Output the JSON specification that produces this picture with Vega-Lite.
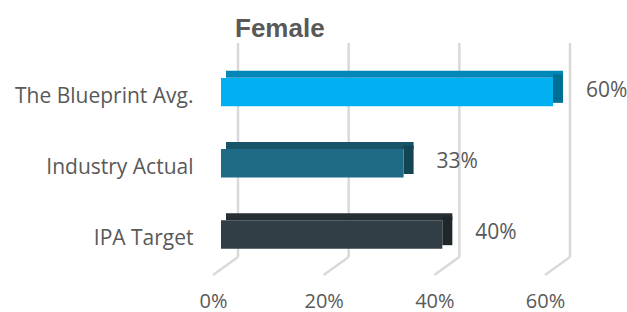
{
  "$schema": "https://vega.github.io/schema/vega-lite/v6.json",
  "autosize": "none",
  "width": 332,
  "height": 232,
  "padding": {"left": 221, "top": 43, "right": 74, "bottom": 37},
  "background": "white",
  "title": {"text": "Female", "anchor": "start", "frame": "group", "dx": 14, "offset": 0, "fontSize": 26, "font": "Liberation Sans", "fontWeight": "bold", "color": "#595959"},
  "config": {"view": {"stroke": null}},
  "datasets": {
    "bars": [
      {"group": "The Blueprint Avg.", "value": 0.60},
      {"group": "Industry Actual", "value": 0.33},
      {"group": "IPA Target", "value": 0.40}
    ],
    "grid": [{"tick": 0}, {"tick": 0.2}, {"tick": 0.4}, {"tick": 0.6}]
  },
  "resolve": {"scale": {"color": "independent"}},
  "layer": [
    {
      "data": {"name": "grid"},
      "mark": {"type": "rule", "color": "#D9D9D9", "strokeWidth": 2.5, "xOffset": 17, "y2Offset": -18},
      "encoding": {
        "x": {"field": "tick", "type": "quantitative", "scale": {"domain": [0, 0.6], "nice": false}, "axis": {"values": [0, 0.2, 0.4, 0.6], "format": ".0%", "labelFlush": false, "grid": false, "ticks": false, "domain": false, "labelFont": "Open Sans", "labelFontSize": 20, "labelColor": "#595959", "labelPadding": 16, "labelOffset": -8, "title": null}},
        "y": {"value": 0},
        "y2": {"value": "height"}
      }
    },
    {
      "data": {"name": "grid"},
      "mark": {"type": "rule", "color": "#D9D9D9", "strokeWidth": 2.5, "xOffset": -8, "x2Offset": 17, "y2Offset": -18},
      "encoding": {
        "x": {"field": "tick", "type": "quantitative"},
        "x2": {"field": "tick"},
        "y": {"value": "height"},
        "y2": {"value": "height"}
      }
    },
    {
      "data": {"name": "bars"},
      "mark": {"type": "bar", "size": 7, "xOffset": 10, "x2Offset": 5, "yOffset": -17.75},
      "encoding": {
        "y": {"field": "group", "type": "nominal", "sort": null, "scale": {"paddingInner": 0.6, "paddingOuter": 0.43, "align": 0.57}, "axis": {"ticks": false, "domain": false, "grid": false, "title": null, "labelFont": "Open Sans", "labelFontSize": 21, "labelLimit": 260, "labelColor": "#595959", "labelPadding": 28, "labelOffset": 5}},
        "x": {"field": "value", "type": "quantitative"},
        "x2": {"datum": 0},
        "color": {"field": "group", "type": "nominal", "legend": null, "scale": {"domain": ["The Blueprint Avg.", "Industry Actual", "IPA Target"], "range": ["#0087B8", "#175468", "#262F34"]}}
      }
    },
    {
      "data": {"name": "bars"},
      "mark": {"type": "bar", "xOffset": 10, "x2Offset": 0, "yOffset": -3.5},
      "encoding": {
        "y": {"field": "group", "type": "nominal", "sort": null},
        "x": {"field": "value", "type": "quantitative"},
        "x2": {"field": "value"},
        "color": {"field": "group", "type": "nominal", "legend": null, "scale": {"domain": ["The Blueprint Avg.", "Industry Actual", "IPA Target"], "range": ["#006F96", "#134555", "#1F272B"]}}
      }
    },
    {
      "data": {"name": "bars"},
      "mark": {"type": "bar"},
      "encoding": {
        "y": {"field": "group", "type": "nominal", "sort": null},
        "x": {"field": "value", "type": "quantitative"},
        "color": {"field": "group", "type": "nominal", "legend": null, "scale": {"domain": ["The Blueprint Avg.", "Industry Actual", "IPA Target"], "range": ["#00B0F0", "#1F6B85", "#323E45"]}}
      }
    },
    {
      "data": {"name": "bars"},
      "mark": {"type": "text", "align": "left", "baseline": "middle", "dx": 33, "dy": -1, "font": "Open Sans", "fontSize": 21, "color": "#595959"},
      "encoding": {
        "y": {"field": "group", "type": "nominal", "sort": null},
        "x": {"field": "value", "type": "quantitative"},
        "text": {"field": "value", "type": "quantitative", "format": ".0%"}
      }
    }
  ]
}
